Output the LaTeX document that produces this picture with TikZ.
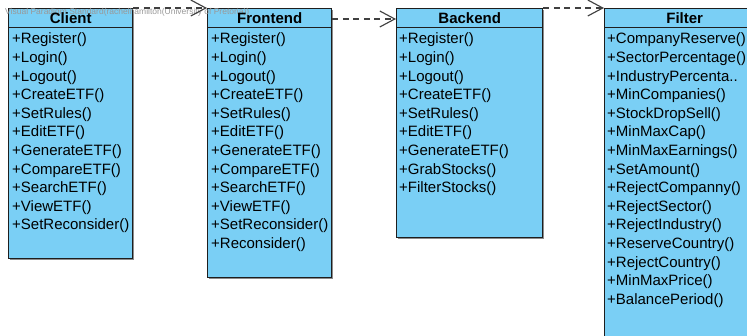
\documentclass[tikz,border=0pt]{standalone}
\usepackage{fontspec}
\setmainfont{Liberation Sans}
\usetikzlibrary{arrows.meta,shadows}

\definecolor{classblue}{RGB}{122,207,245}
\definecolor{lineblack}{RGB}{30,30,30}

\tikzset{
  classbox/.style={draw=lineblack, fill=classblue, line width=0.5mm, inner sep=0pt,
    anchor=north west,
    drop shadow={shadow xshift=1.5pt, shadow yshift=-1.5pt, fill=black!45, opacity=1}},
  classhead/.style={anchor=north, inner sep=0pt, minimum height=19pt,
    font=\bfseries\fontsize{15}{15}\selectfont},
  member/.style={anchor=west, inner sep=0pt, font=\fontsize{15}{15}\selectfont},
  dep/.style={dashed, dash pattern=on 6pt off 4.5pt, line width=0.4mm, draw=black!75,
    -{Straight Barb[length=15pt,width=16pt,line width=0.4mm]}}
}

\begin{document}
\begin{tikzpicture}[x=1pt, y=-1pt]

 \useasboundingbox (0,0) rectangle (747,336);

 % boxes
 \node[classbox, minimum width=124pt, minimum height=250pt] (client) at (8,8) {};
 \node[classbox, minimum width=124pt, minimum height=269pt] (frontend) at (207,8) {};
 \node[classbox, minimum width=146pt, minimum height=229pt] (backend) at (396,8) {};
 \node[classbox, minimum width=160pt, minimum height=345pt] (filter) at (604,8) {};

 % watermark
 \node[anchor=west, inner sep=0pt, text=black!40, font=\fontsize{8.5}{8.5}\selectfont]
   (mark) at (5,12) {Visual Paradigm Standard(rachelhamilton(University of Pretoria))};

 % headers
 \node[classhead] (client-head) at (client.north) {Client};
 \node[classhead] (frontend-head) at (frontend.north) {Frontend};
 \node[classhead] (backend-head) at (backend.north) {Backend};
 \node[classhead] (filter-head) at (filter.north) {Filter};

 \draw[line width=0.5mm, lineblack] (client-head.south -| client.west) -- (client-head.south -| client.east);
 \draw[line width=0.5mm, lineblack] (frontend-head.south -| frontend.west) -- (frontend-head.south -| frontend.east);
 \draw[line width=0.5mm, lineblack] (backend-head.south -| backend.west) -- (backend-head.south -| backend.east);
 \draw[line width=0.5mm, lineblack] (filter-head.south -| filter.west) -- (filter-head.south -| filter.east);

 % operations
 \foreach \op [count=\i] in {Register(), Login(), Logout(), CreateETF(), SetRules(), EditETF(),
   GenerateETF(), CompareETF(), SearchETF(), ViewETF(), SetReconsider()}
   \node[member] (client-\i) at (12, 40+18.6*\i-18.6) {+\op};

 \foreach \op [count=\i] in {Register(), Login(), Logout(), CreateETF(), SetRules(), EditETF(),
   GenerateETF(), CompareETF(), SearchETF(), ViewETF(), SetReconsider(), Reconsider()}
   \node[member] (frontend-\i) at (211, 40+18.6*\i-18.6) {+\op};

 \foreach \op [count=\i] in {Register(), Login(), Logout(), CreateETF(), SetRules(), EditETF(),
   GenerateETF(), GrabStocks(), FilterStocks()}
   \node[member] (backend-\i) at (399, 40+18.6*\i-18.6) {+\op};

 \foreach \op [count=\i] in {CompanyReserve(), SectorPercentage(), IndustryPercenta.., MinCompanies(),
   StockDropSell(), MinMaxCap(), MinMaxEarnings(), SetAmount(), RejectCompanny(), RejectSector(),
   RejectIndustry(), ReserveCountry(), RejectCountry(), MinMaxPrice(), BalancePeriod()}
   \node[member] (filter-\i) at (607, 40+18.6*\i-18.6) {+\op};

 % dependencies
 \draw[dep] (client.north east) -- (frontend.north west);
 \draw[dep] ([yshift=-11pt]frontend.north east) -- ([yshift=-11pt]backend.north west);
 \draw[dep] (backend.north east) -- (filter.north west);

\end{tikzpicture}
\end{document}
